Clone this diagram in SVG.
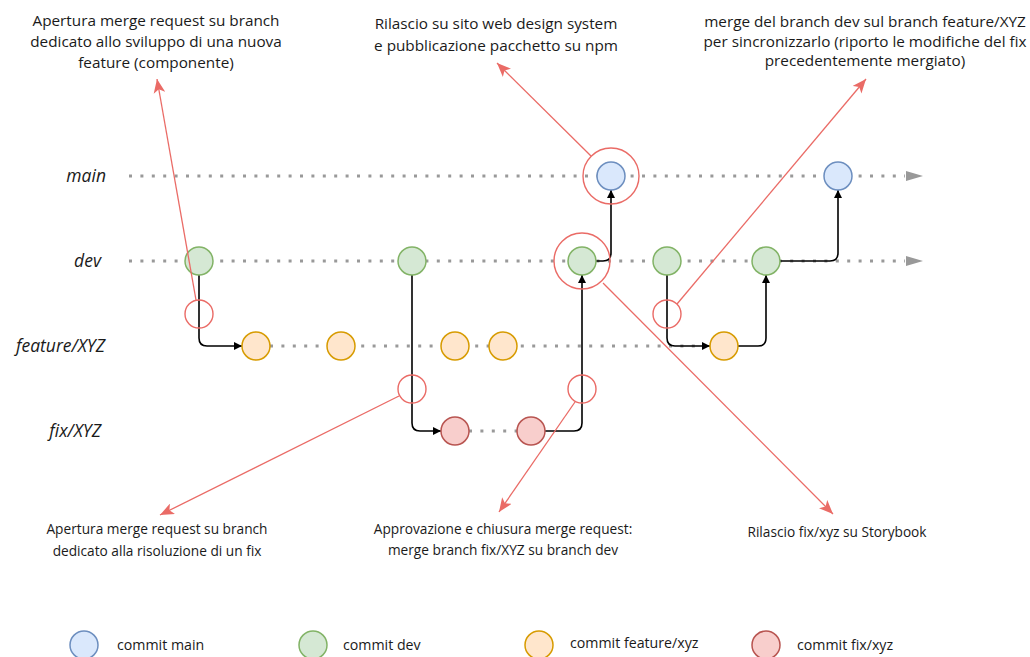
<svg xmlns="http://www.w3.org/2000/svg" width="1030" height="657" viewBox="0 0 1030 657">
  <defs>
    <style>
      text { font-family: "Open Sans", "Liberation Sans", sans-serif; fill: #1a1a1a; }
      .lbl { font-size: 17.5px; font-style: italic; text-anchor: end; }
      .note { font-size: 15.3px; text-anchor: middle; }
      .note2 { font-size: 13.7px; text-anchor: middle; }
      .leg { font-size: 14.2px; }
      .track { stroke: #999999; stroke-width: 3; stroke-dasharray: 3 8.4; fill: none; }
      .flow { stroke: #000000; stroke-width: 1.6; fill: none; }
      .note-line { stroke: #ea6b66; stroke-width: 1.3; fill: none; }
      .ring { stroke: #ea6b66; stroke-width: 1.4; fill: none; }
      .c-main { fill: #dae8fc; stroke: #6c8ebf; stroke-width: 1.5; }
      .c-dev { fill: #d5e8d4; stroke: #82b366; stroke-width: 1.5; }
      .c-feat { fill: #ffe6cc; stroke: #d79b00; stroke-width: 1.5; }
      .c-fix { fill: #f8cecc; stroke: #b85450; stroke-width: 1.5; }
    </style>
    <marker id="arrBlack" viewBox="0 0 10 10" refX="10" refY="5" markerWidth="8" markerHeight="8" markerUnits="userSpaceOnUse" orient="auto">
      <path d="M0,0 L10,5 L0,10 Z" fill="#000"/>
    </marker>
    <marker id="arrRed" viewBox="0 0 12 10" refX="12" refY="5" markerWidth="14" markerHeight="12" markerUnits="userSpaceOnUse" orient="auto">
      <path d="M0,0 L12,5 L0,10 L3,5 Z" fill="#ea6b66"/>
    </marker>
  </defs>

  <!-- branch tracks -->
  <g id="tracks">
    <line class="track" x1="129" y1="176" x2="905" y2="176"/>
    <polygon points="906,171 923,176 906,181" fill="#999999"/>
    <line class="track" x1="129" y1="261" x2="905" y2="261"/>
    <polygon points="906,256 923,261 906,266" fill="#999999"/>
    <line class="track" x1="270" y1="346" x2="710" y2="346"/>
    <line class="track" x1="469" y1="431" x2="517" y2="431"/>
  </g>

  <!-- branch labels -->
  <g id="branch-labels">
    <text class="lbl" x="106" y="182">main</text>
    <text class="lbl" x="101" y="267">dev</text>
    <text class="lbl" x="105" y="352">feature/XYZ</text>
    <text class="lbl" x="101" y="437">fix/XYZ</text>
  </g>

  <!-- merge / branch connectors -->
  <g id="connectors">
    <path class="flow" d="M199,275 V338 Q199,346 207,346 H242" marker-end="url(#arrBlack)"/>
    <path class="flow" d="M412,275 V423 Q412,431 420,431 H441" marker-end="url(#arrBlack)"/>
    <path class="flow" d="M545,431 H574 Q582,431 582,423 V275" marker-end="url(#arrBlack)"/>
    <path class="flow" d="M596,261 H603 Q611,261 611,253 V190" marker-end="url(#arrBlack)"/>
    <path class="flow" d="M667,275 V338 Q667,346 675,346 H710" marker-end="url(#arrBlack)"/>
    <path class="flow" d="M738,346 H758 Q766,346 766,338 V275" marker-end="url(#arrBlack)"/>
    <path class="flow" d="M780,261 H830 Q838,261 838,253 V190" marker-end="url(#arrBlack)"/>
  </g>

  <!-- commits -->
  <g id="commit-main-1"><circle class="c-main" cx="611" cy="176" r="14"/></g>
  <g id="commit-main-2"><circle class="c-main" cx="838" cy="176" r="14"/></g>
  <g id="commit-dev-1"><circle class="c-dev" cx="199" cy="261" r="14"/></g>
  <g id="commit-dev-2"><circle class="c-dev" cx="412" cy="261" r="14"/></g>
  <g id="commit-dev-3"><circle class="c-dev" cx="582" cy="261" r="14"/></g>
  <g id="commit-dev-4"><circle class="c-dev" cx="667" cy="261" r="14"/></g>
  <g id="commit-dev-5"><circle class="c-dev" cx="766" cy="261" r="14"/></g>
  <g id="commit-feat-1"><circle class="c-feat" cx="256" cy="346" r="14"/></g>
  <g id="commit-feat-2"><circle class="c-feat" cx="341" cy="346" r="14"/></g>
  <g id="commit-feat-3"><circle class="c-feat" cx="455" cy="346" r="14"/></g>
  <g id="commit-feat-4"><circle class="c-feat" cx="503" cy="346" r="14"/></g>
  <g id="commit-feat-5"><circle class="c-feat" cx="724" cy="346" r="14"/></g>
  <g id="commit-fix-1"><circle class="c-fix" cx="455" cy="431" r="14"/></g>
  <g id="commit-fix-2"><circle class="c-fix" cx="531" cy="431" r="14"/></g>

  <!-- highlight rings -->
  <g id="ring-release"><circle class="ring" cx="611" cy="176" r="28"/></g>
  <g id="ring-storybook"><circle class="ring" cx="582" cy="261" r="28"/></g>
  <g id="ring-open-feature"><circle class="ring" cx="199" cy="314" r="14"/></g>
  <g id="ring-sync"><circle class="ring" cx="667" cy="314" r="14"/></g>
  <g id="ring-open-fix"><circle class="ring" cx="412" cy="389" r="14"/></g>
  <g id="ring-merge-fix"><circle class="ring" cx="582" cy="389" r="14"/></g>

  <!-- annotation pointers -->
  <g id="note-connectors">
    <line class="note-line" x1="196" y1="300" x2="157" y2="79" marker-end="url(#arrRed)"/>
    <line class="note-line" x1="591" y1="156" x2="497" y2="63" marker-end="url(#arrRed)"/>
    <line class="note-line" x1="677" y1="304" x2="866" y2="79" marker-end="url(#arrRed)"/>
    <line class="note-line" x1="399" y1="396" x2="160" y2="515" marker-end="url(#arrRed)"/>
    <line class="note-line" x1="575" y1="402" x2="499" y2="512" marker-end="url(#arrRed)"/>
    <line class="note-line" x1="603" y1="283" x2="833" y2="514" marker-end="url(#arrRed)"/>
  </g>

  <!-- annotations -->
  <g id="note-open-feature">
    <text class="note" x="156" y="26">Apertura merge request su branch</text>
    <text class="note" x="156" y="47">dedicato allo sviluppo di una nuova</text>
    <text class="note" x="156" y="68">feature (componente)</text>
  </g>
  <g id="note-release">
    <text class="note" x="496" y="29">Rilascio su sito web design system</text>
    <text class="note" x="496" y="51">e pubblicazione pacchetto su npm</text>
  </g>
  <g id="note-sync">
    <text class="note" x="865" y="27">merge del branch dev sul branch feature/XYZ</text>
    <text class="note" x="865" y="47">per sincronizzarlo (riporto le modifiche del fix</text>
    <text class="note" x="865" y="66">precedentemente mergiato)</text>
  </g>
  <g id="note-open-fix">
    <text class="note2" x="157" y="534">Apertura merge request su branch</text>
    <text class="note2" x="157" y="556">dedicato alla risoluzione di un fix</text>
  </g>
  <g id="note-merge-fix">
    <text class="note2" x="503" y="534">Approvazione e chiusura merge request:</text>
    <text class="note2" x="503" y="555">merge branch fix/XYZ su branch dev</text>
  </g>
  <g id="note-storybook">
    <text class="note2" x="837" y="537">Rilascio fix/xyz su Storybook</text>
  </g>

  <!-- legend -->
  <g id="legend">
    <circle class="c-main" cx="84" cy="645" r="14"/>
    <text class="leg" x="117" y="650">commit main</text>
    <circle class="c-dev" cx="313" cy="645" r="14"/>
    <text class="leg" x="343" y="650">commit dev</text>
    <circle class="c-feat" cx="539" cy="645" r="14"/>
    <text class="leg" x="570" y="648">commit feature/xyz</text>
    <circle class="c-fix" cx="766" cy="645" r="14"/>
    <text class="leg" x="797" y="650">commit fix/xyz</text>
  </g>
</svg>
